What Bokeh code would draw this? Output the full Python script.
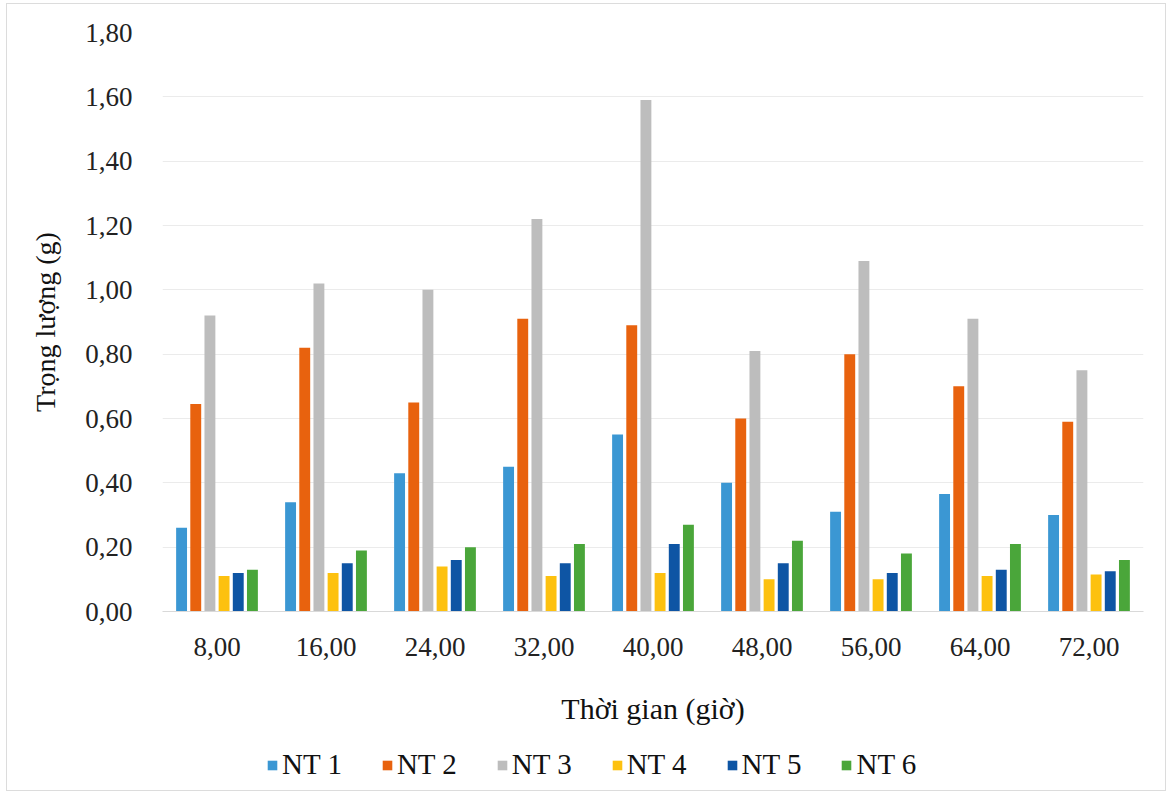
from bokeh.plotting import figure
from bokeh.layouts import column
from bokeh.models import (ColumnDataSource, FactorRange, FixedTicker, CustomJSTickFormatter,
                          Legend, LegendItem, Range1d)
from bokeh.transform import dodge
from bokeh.embed import file_html
from bokeh.resources import INLINE

times = ["8,00", "16,00", "24,00", "32,00", "40,00", "48,00", "56,00", "64,00", "72,00"]
series = ["NT 1", "NT 2", "NT 3", "NT 4", "NT 5", "NT 6"]
nt1 = [0.26, 0.34, 0.43, 0.45, 0.55, 0.40, 0.31, 0.365, 0.30]
nt2 = [0.645, 0.82, 0.65, 0.91, 0.89, 0.60, 0.80, 0.70, 0.59]
nt3 = [0.92, 1.02, 1.00, 1.22, 1.59, 0.81, 1.09, 0.91, 0.75]
nt4 = [0.11, 0.12, 0.14, 0.11, 0.12, 0.10, 0.10, 0.11, 0.115]
nt5 = [0.12, 0.15, 0.16, 0.15, 0.21, 0.15, 0.12, 0.13, 0.125]
nt6 = [0.13, 0.19, 0.20, 0.21, 0.27, 0.22, 0.18, 0.21, 0.16]
y_ticks = [0.0, 0.2, 0.4, 0.6, 0.8, 1.0, 1.2, 1.4, 1.6, 1.8]

colors = ["#3b97d3", "#e8620e", "#bdbdbd", "#fdc10f", "#0e55a4", "#4aa63a"]
values = [nt1, nt2, nt3, nt4, nt5, nt6]

data = {"x": times}
for name, vals in zip(series, values):
    data[name] = vals
src = ColumnDataSource(data)

serif = "Liberation Serif"

p = figure(x_range=FactorRange(*times, range_padding=0), y_range=(0, 1.8),
           width=1158, height=740, output_backend="svg", toolbar_location=None,
           min_border_left=155, min_border_right=22, min_border_top=28, min_border_bottom=133)
p.outline_line_color = None

offsets = [-0.325, -0.195, -0.065, 0.065, 0.195, 0.325]
for name, col, off in zip(series, colors, offsets):
    p.vbar(x=dodge("x", off, range=p.x_range), top=name, width=0.1, source=src,
           fill_color=col, line_color=None)

p.yaxis.ticker = FixedTicker(ticks=y_ticks)
p.yaxis.formatter = CustomJSTickFormatter(code="return tick.toFixed(2).replace('.', ',');")
for ax in (p.xaxis[0], p.yaxis[0]):
    ax.major_tick_line_color = None
    ax.minor_tick_line_color = None
    ax.major_label_text_font = serif
    ax.major_label_text_font_size = "27px"
    ax.major_label_text_color = "#222222"
    ax.axis_label_text_font = serif
    ax.axis_label_text_font_style = "normal"
    ax.axis_label_text_color = "#111111"
p.xaxis.axis_label_text_font_size = "30px"
p.yaxis.axis_label_text_font_size = "28px"
p.yaxis.axis_line_color = None
p.xaxis.axis_line_color = "#d9d9d9"
p.yaxis.major_label_standoff = 24
p.xaxis.major_label_standoff = 20
p.yaxis.axis_label = "Trọng lượng (g)"
p.xaxis.axis_label = "Thời gian (giờ)"
p.yaxis.axis_label_standoff = 21
p.xaxis.axis_label_standoff = 33

p.xgrid.grid_line_color = None
p.ygrid.grid_line_color = "#ebebeb"
p.ygrid.ticker = FixedTicker(ticks=y_ticks)

# legend strip: same bars, drawn outside its visible y range, used only as legend proxies
pl = figure(width=1158, height=46, output_backend="svg", toolbar_location=None,
            x_range=FactorRange(*times, range_padding=0), y_range=Range1d(5, 6),
            x_axis_type=None, y_axis_type=None,
            min_border_left=0, min_border_right=0, min_border_top=0, min_border_bottom=0)
pl.outline_line_color = None
pl.grid.grid_line_color = None
items = []
for name, col, off in zip(series, colors, offsets):
    r = pl.vbar(x=dodge("x", off, range=pl.x_range), top=name, width=0.1, source=src,
                fill_color=col, line_color=None)
    items.append(LegendItem(label=name, renderers=[r]))
legend = Legend(items=items, orientation="horizontal", location=(104, 9),
                label_text_font=serif, label_text_font_size="29px", label_text_color="#111111",
                glyph_width=12, glyph_height=12, label_standoff=4, spacing=39,
                padding=0, margin=0, border_line_color=None, background_fill_alpha=0)
pl.add_layout(legend, "center")

layout = column(p, pl, spacing=0,
                styles={"border": "1px solid #dcdcdc", "margin-left": "6px", "margin-top": "3px"})

open("out.html", "w").write(file_html(layout, INLINE))
